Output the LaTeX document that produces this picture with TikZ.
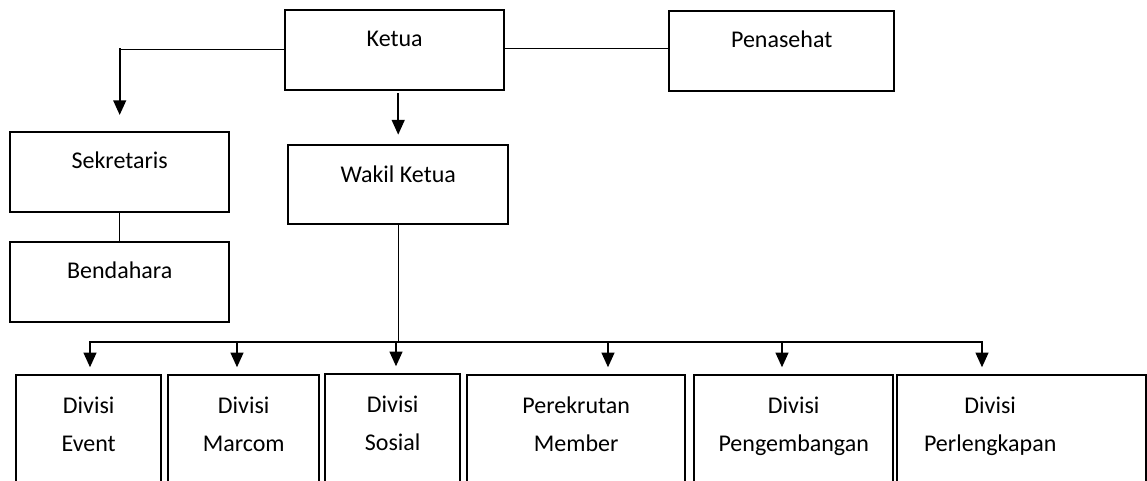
\documentclass[tikz,border=0pt]{standalone}
\usepackage{fontspec}
\setmainfont{Carlito}
\usetikzlibrary{arrows.meta}

\newlength\px
\setlength\px{0.75pt}
\newcommand\boxtext[4]{\parbox[c][#2][t]{#1}{\centering\rule{0pt}{#3}#4}}

\begin{document}
\begin{tikzpicture}[x=0.75pt, y=-0.75pt, font=\fontsize{18pt}{28.5pt}\selectfont,
    box/.style={draw, line width=1.8pt, inner sep=0pt, anchor=north west},
    link/.style={line width=0.8pt},
    arr/.style={line width=1.6pt, -{Triangle[length=11pt, width=9.5pt]}}]
      \clip (0,0) rectangle (1147,481);

      \newcommand\TOPGAP{27.5pt}
      \newcommand\ROWGAP{29pt}

      \node[box] (ketua) at (284,9) {\boxtext{219\px}{80\px}{\TOPGAP}{Ketua}};
      \node[box] (pen) at (668,10) {\boxtext{225\px}{80\px}{\TOPGAP}{Penasehat}};
      \node[box] (sek) at (9,131) {\boxtext{219\px}{80\px}{\TOPGAP}{Sekretaris}};
      \node[box] (wakil) at (287,144) {\boxtext{220\px}{79\px}{28pt}{Wakil Ketua}};
      \node[box] (ben) at (9,241) {\boxtext{219\px}{80\px}{\TOPGAP}{Bendahara}};

      \node[box] (ev) at (15,374) {\boxtext{145\px}{140\px}{\ROWGAP}{Divisi\\Event}};
      \node[box] (mar) at (167,374) {\boxtext{151\px}{140\px}{\ROWGAP}{Divisi\\Marcom}};
      \node[box] (sos) at (324,373) {\boxtext{135\px}{140\px}{28.5pt}{Divisi\\Sosial}};
      \node[box] (rek) at (466,374) {\boxtext{218\px}{140\px}{\ROWGAP}{Perekrutan\\Member}};
      \node[box] (dev) at (693,374) {\boxtext{199\px}{140\px}{\ROWGAP}{Divisi\\Pengembangan}};
      \node[box] (alat) at (896,374) {\boxtext{186\px}{140\px}{\ROWGAP}{Divisi\\Perlengkapan}\hspace*{63\px}};

      \coordinate (kl) at ([yshift=1\px]ketua.west -| sek.north);
      \draw[link] ([yshift=1\px]ketua.west) -- (kl);
      \draw[arr, shorten >=12pt] ([yshift=0.8pt]kl) -- (sek.north);
      \draw[link] ([yshift=1.5pt]ketua.east) -- ([yshift=1.5pt]ketua.east -| pen.west);
      \draw[arr, shorten <=1.5pt, shorten >=7pt] (ketua.south -| wakil.north) -- (wakil.north);
      \draw[link] (sek.south) -- (ben.north);

      \coordinate (busL) at (89,342);
      \coordinate (busR) at (983,342);
      \draw[link] (wakil.south) -- (wakil.south |- busL);
      \draw[link] (busL) -- (busR);
      \foreach \x/\n in {90/ev, 237/mar, 396/sos, 608/rek, 782/dev, 982/alat} {
        \coordinate (b\n) at (\x,342);
        \draw[arr, shorten >=5pt] (b\n) -- (b\n |- \n.north);
      }

    \end{tikzpicture}
\end{document}
